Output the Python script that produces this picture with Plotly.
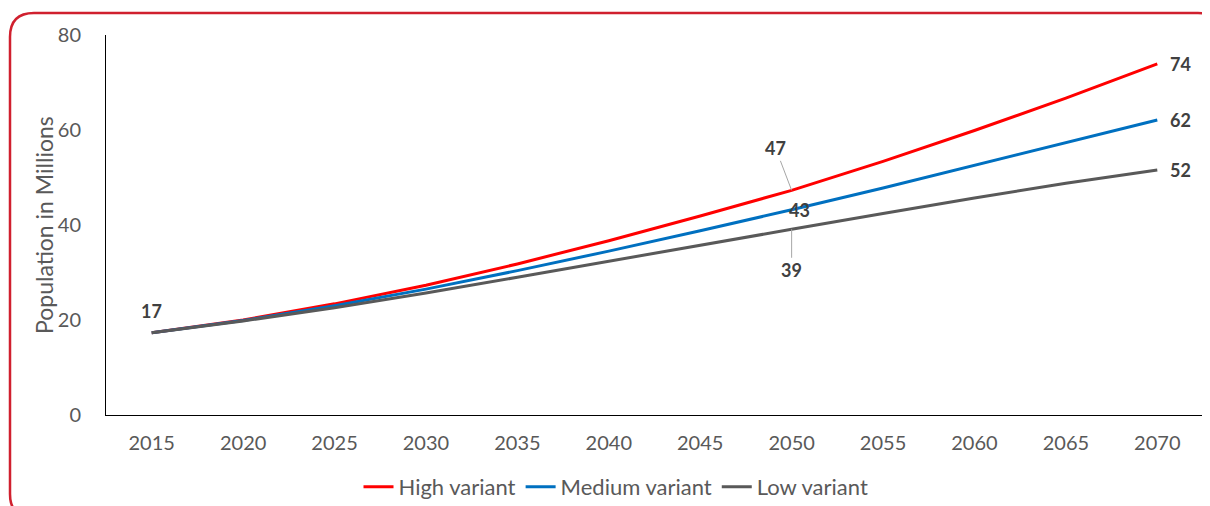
import plotly.graph_objects as go

years = ["2015", "2020", "2025", "2030", "2035", "2040", "2045", "2050", "2055", "2060", "2065", "2070"]
high = [17.3, 20.0, 23.4, 27.3, 31.8, 36.7, 41.9, 47.3, 53.4, 59.9, 66.7, 73.9]
medium = [17.3, 19.9, 23.0, 26.5, 30.4, 34.5, 38.8, 43.2, 47.8, 52.6, 57.4, 62.1]
low = [17.3, 19.8, 22.6, 25.7, 29.0, 32.4, 35.8, 39.1, 42.4, 45.7, 48.8, 51.6]

series = [("High variant", high, "#ff0000"),
          ("Medium variant", medium, "#0070c0"),
          ("Low variant", low, "#595959")]

xs = [int(y) for y in years]

# page body has an 8px margin: figure coords = screen coords - 8
OFF = 8
W, H = 1210, 506
L, R, T, B = 106 - OFF, 15, 35 - OFF, 506 - (415 - OFF)
pw, ph = W - L - R, H - T - B

FONT = "Lato"
TXT = "#595959"
LBL = "#404040"

fig = go.Figure()
for name, vals, col in series:
    fig.add_trace(go.Scatter(x=xs, y=vals, name=name, mode="lines",
                             line=dict(color=col, width=3)))

def px(x):
    return (x - OFF - L) / pw

def py(y):
    return (H - B - (y - OFF)) / ph

# rounded border (screen coordinates)
x0, y0, x1, y1, r = 10, 13, 1222, 518, 24
path = (f"M {px(x0)},{py(y0 + r)} Q {px(x0)},{py(y0)} {px(x0 + r)},{py(y0)} "
        f"L {px(x1 - r)},{py(y0)} Q {px(x1)},{py(y0)} {px(x1)},{py(y0 + r)} "
        f"L {px(x1)},{py(y1 - r)} Q {px(x1)},{py(y1)} {px(x1 - r)},{py(y1)} "
        f"L {px(x0 + r)},{py(y1)} Q {px(x0)},{py(y1)} {px(x0)},{py(y1 - r)} Z")
fig.add_shape(type="path", path=path, xref="paper", yref="paper",
              line=dict(color="#d0202e", width=2.5), layer="above")

lab_font = dict(family=FONT, size=18, color=LBL, weight="bold")
i = years.index("2050")
fig.add_annotation(x=xs[0], y=high[0], text=str(round(high[0])), showarrow=False,
                   yshift=22, font=lab_font)
fig.add_annotation(x=xs[i], y=high[i], text=str(round(high[i])), showarrow=True,
                   ax=-16, ay=-42, arrowhead=0, arrowwidth=1, arrowcolor="#a6a6a6",
                   font=lab_font)
fig.add_annotation(x=xs[i], y=medium[i], text=str(round(medium[i])), showarrow=False,
                   xshift=8, font=lab_font)
fig.add_annotation(x=xs[i], y=low[i], text=str(round(low[i])), showarrow=True,
                   ax=0, ay=41, arrowhead=0, arrowwidth=1, arrowcolor="#a6a6a6",
                   font=lab_font)
for vals in (high, medium, low):
    fig.add_annotation(x=xs[-1], y=vals[-1], text=str(round(vals[-1])), showarrow=False,
                       xshift=23, font=lab_font)

# y-axis title
fig.add_annotation(text="Population in Millions", xref="paper", yref="paper",
                   x=px(44), y=0.5, xanchor="center", yanchor="middle",
                   textangle=-90, showarrow=False,
                   font=dict(family=FONT, size=23, color=TXT))

fig.update_layout(
    width=W, height=H,
    margin=dict(l=L, r=R, t=T, b=B, autoexpand=False),
    paper_bgcolor="white", plot_bgcolor="white",
    font=dict(family=FONT, size=20, color=TXT),
    showlegend=True,
    legend=dict(orientation="h", x=px(616), xanchor="center",
                y=py(487), yanchor="middle",
                font=dict(family=FONT, size=22, color=TXT), itemwidth=30,
                bgcolor="rgba(0,0,0,0)", tracegroupgap=0),
)
fig.update_xaxes(range=[2012.5, 2072.5], tickvals=xs, ticktext=years, showline=True,
                 linecolor="#000000", linewidth=1, showgrid=False, ticks="",
                 tickfont=dict(size=20, color=TXT), ticklabelstandoff=10,
                 zeroline=False, automargin=False)
fig.update_yaxes(range=[0, 80], tickvals=[0, 20, 40, 60, 80], showline=True,
                 linecolor="#000000", linewidth=1, showgrid=False, ticks="",
                 tickfont=dict(size=20, color=TXT), ticklabelstandoff=20, zeroline=False,
                 automargin=False)

fig.write_html("out.html")
